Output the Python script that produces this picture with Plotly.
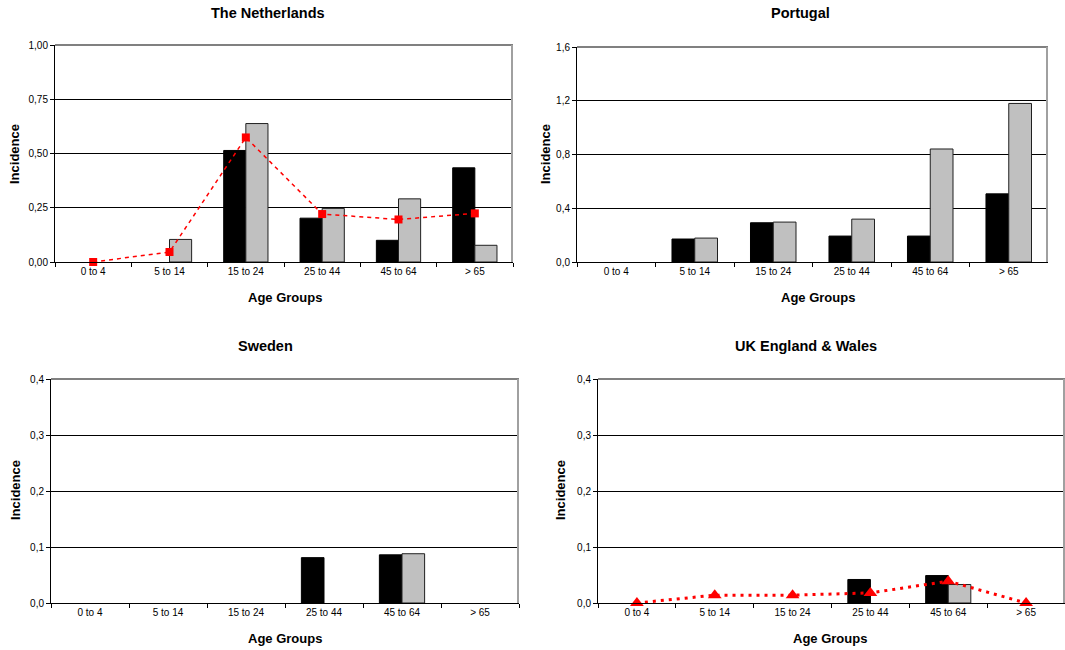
import plotly.graph_objects as go

age_groups = ["0 to 4", "5 to 14", "15 to 24", "25 to 44", "45 to 64", "> 65"]

# None = no bar drawn in the reference
nl_black = [None, None, 0.514, 0.202, 0.100, 0.434]
nl_gray = [None, 0.104, 0.638, 0.247, 0.291, 0.077]
nl_line = [0.0, 0.046, 0.574, 0.221, 0.196, 0.224]

pt_black = [None, 0.171, 0.292, 0.193, 0.193, 0.507]
pt_gray = [None, 0.178, 0.297, 0.319, 0.841, 1.180]

se_black = [None, None, None, 0.081, 0.086, None]
se_gray = [None, None, None, None, 0.088, None]

uk_black = [None, None, None, 0.042, 0.049, None]
uk_gray = [None, None, None, None, 0.033, None]
uk_line = [0.0, 0.014, 0.014, 0.018, 0.039, 0.0]

W, H = 1065, 650
FONT = "Liberation Sans, Arial, sans-serif"

panels = [
    dict(name="The Netherlands", black=nl_black, gray=nl_gray, line=nl_line, line_dash="4px,4px",
         symbol="square", msize=8, lwidth=1.5,
         px=(55, 513), py=(45, 262), ymax=1.0, dtick=0.25, fmt=".2f",
         title_xy=(268, 13), xt_xy=(285, 297), yt_xy=(14, 154)),
    dict(name="Portugal", black=pt_black, gray=pt_gray, line=None,
         px=(577, 1048), py=(47, 262), ymax=1.6, dtick=0.4, fmt=".1f",
         title_xy=(800, 13), xt_xy=(818, 297), yt_xy=(545, 154)),
    dict(name="Sweden", black=se_black, gray=se_gray, line=None,
         px=(51, 519), py=(379, 603), ymax=0.4, dtick=0.1, fmt=".1f",
         title_xy=(265, 346), xt_xy=(285, 638), yt_xy=(15, 490)),
    dict(name="UK England & Wales", black=uk_black, gray=uk_gray, line=uk_line, line_dash="3px,5px",
         symbol="triangle-up", msize=12, lwidth=3,
         px=(598, 1065), py=(379, 603), ymax=0.4, dtick=0.1, fmt=".1f",
         title_xy=(806, 346), xt_xy=(830, 638), yt_xy=(560, 490)),
]

fig = go.Figure()
annotations = []
shapes = []
layout_axes = {}

for i, p in enumerate(panels, start=1):
    xa = "x" if i == 1 else f"x{i}"
    ya = "y" if i == 1 else f"y{i}"
    xkey = "xaxis" if i == 1 else f"xaxis{i}"
    ykey = "yaxis" if i == 1 else f"yaxis{i}"

    fig.add_trace(go.Bar(x=age_groups, y=p["black"], xaxis=xa, yaxis=ya,
                         marker=dict(color="black", line=dict(color="black", width=1)),
                         name="Series 1", showlegend=False))
    fig.add_trace(go.Bar(x=age_groups, y=p["gray"], xaxis=xa, yaxis=ya,
                         marker=dict(color="#C0C0C0", line=dict(color="#202020", width=1)),
                         name="Series 2", showlegend=False))
    if p["line"] is not None:
        fig.add_trace(go.Scatter(x=age_groups, y=p["line"], xaxis=xa, yaxis=ya,
                                 mode="lines+markers", cliponaxis=False,
                                 line=dict(color="#FF0000", width=p["lwidth"], dash=p["line_dash"]),
                                 marker=dict(color="#FF0000", symbol=p["symbol"], size=p["msize"]),
                                 name="Trend", showlegend=False))

    x0, x1 = p["px"]
    yt, yb = p["py"]
    layout_axes[xkey] = dict(
        domain=[x0 / W, x1 / W], anchor=ya, type="category", automargin=False,
        categoryorder="array", categoryarray=age_groups,
        range=[-0.5, 5.5], tickson="boundaries", ticks="outside", ticklen=4,
        tickcolor="black", showline=True, linecolor="black", linewidth=1,
        showgrid=False, zeroline=False,
        tickfont=dict(family=FONT, size=10, color="black"), fixedrange=True,
    )
    layout_axes[ykey] = dict(
        domain=[1 - yb / H, 1 - yt / H], anchor=xa, automargin=False,
        range=[0, p["ymax"]], dtick=p["dtick"], tick0=0, tickformat=p["fmt"],
        ticks="outside", ticklen=4, tickcolor="black",
        showline=True, linecolor="black", linewidth=1,
        showgrid=True, gridcolor="black", gridwidth=1, zeroline=False,
        tickfont=dict(family=FONT, size=10, color="black"), fixedrange=True,
    )
    shapes.append(dict(type="line", xref="paper", yref="paper",
                       x0=x0 / W, x1=x1 / W, y0=1 - yt / H, y1=1 - yt / H,
                       line=dict(color="#808080", width=2), layer="above"))
    shapes.append(dict(type="line", xref="paper", yref="paper",
                       x0=x1 / W - 1 / W, x1=x1 / W - 1 / W, y0=1 - yb / H, y1=1 - yt / H,
                       line=dict(color="#A0A0A0", width=2), layer="above"))

    tx, ty = p["title_xy"]
    annotations.append(dict(text=f"<b>{p['name']}</b>", x=tx / W, y=1 - ty / H,
                            xref="paper", yref="paper", showarrow=False,
                            xanchor="center", yanchor="middle",
                            font=dict(family=FONT, size=14.5, color="black")))
    ax_, ay_ = p["xt_xy"]
    annotations.append(dict(text="<b>Age Groups</b>", x=ax_ / W, y=1 - ay_ / H,
                            xref="paper", yref="paper", showarrow=False,
                            xanchor="center", yanchor="middle",
                            font=dict(family=FONT, size=13, color="black")))
    bx, by = p["yt_xy"]
    annotations.append(dict(text="<b>Incidence</b>", x=bx / W, y=1 - by / H,
                            xref="paper", yref="paper", showarrow=False, textangle=-90,
                            xanchor="center", yanchor="middle",
                            font=dict(family=FONT, size=13, color="black")))

fig.update_layout(
    template="none",
    width=W, height=H, margin=dict(l=0, r=0, t=0, b=0, autoexpand=False),
    paper_bgcolor="white", plot_bgcolor="white",
    barmode="group", bargap=0.42, bargroupgap=0,
    separators=",.", showlegend=False,
    annotations=annotations, shapes=shapes,
    font=dict(family=FONT, color="black"),
    **layout_axes,
)

fig.write_html("out.html", config={"displayModeBar": False})

# remove the browser's default page margin so the figure sits at (0, 0)
with open("out.html", "r", encoding="utf-8") as f:
    html = f.read()
html = html.replace("<head>", "<head><style>html,body{margin:0;padding:0;overflow:hidden;}</style>", 1)
with open("out.html", "w", encoding="utf-8") as f:
    f.write(html)
